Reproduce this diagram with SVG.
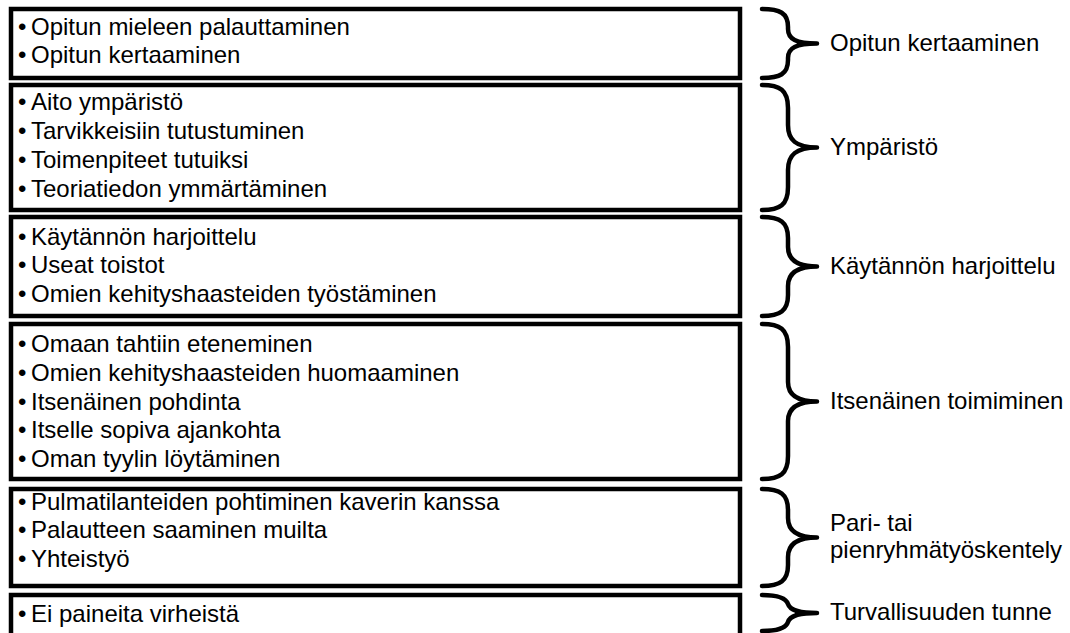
<svg xmlns="http://www.w3.org/2000/svg" width="1070" height="633" viewBox="0 0 1070 633">
<style>
.box{fill:#fff;stroke:#000;stroke-width:4.5}
.brace{fill:none;stroke:#000;stroke-width:4.5;stroke-linecap:round;stroke-linejoin:round}
text{font-family:"Liberation Sans",Arial,sans-serif;font-size:24px;fill:#000}
</style>
<rect width="1070" height="633" fill="#fff"/>
<g id="box1">
<rect class="box" x="11" y="9" width="729" height="69"/>
<text x="18" y="35">•</text><text x="31" y="35">Opitun mieleen palauttaminen</text>
<text x="18" y="63">•</text><text x="31" y="63">Opitun kertaaminen</text>
</g>
<g id="box2">
<rect class="box" x="11" y="85" width="729" height="125"/>
<text x="18" y="110">•</text><text x="31" y="110">Aito ympäristö</text>
<text x="18" y="139">•</text><text x="31" y="139">Tarvikkeisiin tutustuminen</text>
<text x="18" y="168">•</text><text x="31" y="168">Toimenpiteet tutuiksi</text>
<text x="18" y="197">•</text><text x="31" y="197">Teoriatiedon ymmärtäminen</text>
</g>
<g id="box3">
<rect class="box" x="11" y="217" width="729" height="99"/>
<text x="18" y="245">•</text><text x="31" y="245">Käytännön harjoittelu</text>
<text x="18" y="273">•</text><text x="31" y="273">Useat toistot</text>
<text x="18" y="302">•</text><text x="31" y="302">Omien kehityshaasteiden työstäminen</text>
</g>
<g id="box4">
<rect class="box" x="11" y="324" width="729" height="155"/>
<text x="18" y="352">•</text><text x="31" y="352">Omaan tahtiin eteneminen</text>
<text x="18" y="381">•</text><text x="31" y="381">Omien kehityshaasteiden huomaaminen</text>
<text x="18" y="410">•</text><text x="31" y="410">Itsenäinen pohdinta</text>
<text x="18" y="438">•</text><text x="31" y="438">Itselle sopiva ajankohta</text>
<text x="18" y="467">•</text><text x="31" y="467">Oman tyylin löytäminen</text>
</g>
<g id="box5">
<rect class="box" x="11" y="489" width="729" height="97"/>
<text x="18" y="510">•</text><text x="31" y="510">Pulmatilanteiden pohtiminen kaverin kanssa</text>
<text x="18" y="538">•</text><text x="31" y="538">Palautteen saaminen muilta</text>
<text x="18" y="567">•</text><text x="31" y="567">Yhteistyö</text>
</g>
<g id="box6">
<rect class="box" x="11" y="595" width="729" height="42"/>
<text x="18" y="622">•</text><text x="31" y="622">Ei paineita virheistä</text>
</g>
<g id="connectors">
<path class="brace" d="M762 9 C780 9 788 13 788 27 L788 29 C788 39 796 43.5 817 43.5 C796 43.5 788 48 788 58 L788 60 C788 74 780 78 762 78"/>
<path class="brace" d="M762 85 C780 85 788 90 788 108 L788 125 C788 140 796 147.5 817 147.5 C796 147.5 788 155 788 170 L788 187 C788 205 780 210 762 210"/>
<path class="brace" d="M762 217 C780 217 788 222 788 238 L788 247 C788 259 796 266.5 817 266.5 C796 266.5 788 274 788 286 L788 295 C788 311 780 316 762 316"/>
<path class="brace" d="M762 324 C780 324 788 329 788 347 L788 382 C788 394 796 401.5 817 401.5 C796 401.5 788 409 788 421 L788 456 C788 474 780 479 762 479"/>
<path class="brace" d="M762 489 C780 489 788 494 788 510 L788 518 C788 530 796 537.5 817 537.5 C796 537.5 788 545 788 557 L788 565 C788 581 780 586 762 586"/>
<path class="brace" d="M762 595 C778 595 786 598 788 604 C790 610 798 613 817 613 C798 613 790 616 788 622 C786 628 778 631 762 631"/>
</g>
<g id="labels">
<text x="830" y="51">Opitun kertaaminen</text>
<text x="830" y="155">Ympäristö</text>
<text x="830" y="274">Käytännön harjoittelu</text>
<text x="830" y="409">Itsenäinen toimiminen</text>
<text x="830" y="531">Pari- tai</text>
<text x="830" y="558">pienryhmätyöskentely</text>
<text x="830" y="620">Turvallisuuden tunne</text>
</g>
</svg>
